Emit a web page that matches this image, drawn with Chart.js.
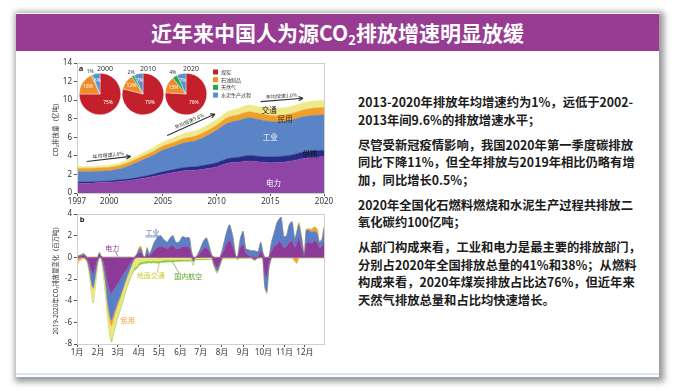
<!DOCTYPE html>
<html>
<head>
<meta charset="utf-8">
<script src="https://cdn.jsdelivr.net/npm/chart.js@4.4.1/dist/chart.umd.min.js"></script>
<style>
  html, body { margin: 0; padding: 0; width: 676px; height: 391px; background: #fff; overflow: hidden; }
  body { position: relative; font-family: "Noto Sans CJK SC", sans-serif; }
  #slide { position: absolute; left: 16px; top: 13px; width: 643px; height: 364px; background: #fff; box-shadow: 2px 2px 6px 3px rgba(0,0,0,0.4); }
  #title { position: absolute; left: 0; top: 1px; width: 643px; height: 37px; background: #973b93; color: #fff; font-weight: bold; font-size: 21px; line-height: 37px; text-align: center; }
  #title sub { font-size: 13px; vertical-align: -4px; line-height: 0; }
  #baseline { position: absolute; left: 0; bottom: 2px; width: 643px; height: 2px; background: #d6e7f7; }
  #notes { position: absolute; left: 358px; top: 94px; width: 300px; font-weight: bold; font-size: 12.3px; line-height: 17.5px; color: #1c1c1c; }
  #notes p { margin: 0 0 7.5px 0; white-space: nowrap; }
  canvas { position: absolute; }
</style>
</head>
<body>
<div id="slide">
  <div id="title">近年来中国人为源CO<sub>2</sub>排放增速明显放缓</div>
  <div id="baseline"></div>
</div>
<canvas id="chartA" width="300" height="160" style="left:40px;top:55px"></canvas>
<canvas id="chartB" width="300" height="160" style="left:40px;top:207px"></canvas>
<canvas id="pie1" width="60" height="60" style="left:70px;top:64px"></canvas>
<canvas id="pie2" width="60" height="60" style="left:113px;top:64px"></canvas>
<canvas id="pie3" width="60" height="60" style="left:156px;top:64px"></canvas>
<div id="notes">
  <p>2013-2020年排放年均增速约为1%，远低于2002-<br>2013年间9.6%的排放增速水平；</p>
  <p>尽管受新冠疫情影响，我国2020年第一季度碳排放<br>同比下降11%，但全年排放与2019年相比仍略有增<br>加，同比增长0.5%；</p>
  <p>2020年全国化石燃料燃烧和水泥生产过程共排放二<br>氧化碳约100亿吨；</p>
  <p>从部门构成来看，工业和电力是最主要的排放部门，<br>分别占2020年全国排放总量的41%和38%；从燃料<br>构成来看，2020年煤炭排放占比达76%，但近年来<br>天然气排放总量和占比均快速增长。</p>
</div>
<script>
// ---------- 图a：1997-2020 分部门排放（亿吨） ----------
const years = [1997, 1998, 1999, 2000, 2001, 2002, 2003, 2004, 2005, 2006, 2007, 2008,
               2009, 2010, 2011, 2012, 2013, 2014, 2015, 2016, 2017, 2018, 2019, 2020];
const yearTicks = [1997, 2000, 2005, 2010, 2015, 2020];
const power       = [1.0, 1.05, 1.1, 1.15, 1.25, 1.35, 1.55, 1.75, 2.0, 2.2, 2.4, 2.45, 2.6, 2.8, 3.2, 3.3, 3.45, 3.35, 3.25, 3.3, 3.45, 3.7, 3.85, 3.9];
const heat        = [0.15, 0.15, 0.15, 0.15, 0.17, 0.18, 0.2, 0.25, 0.28, 0.32, 0.35, 0.38, 0.42, 0.45, 0.5, 0.55, 0.6, 0.6, 0.62, 0.65, 0.65, 0.7, 0.7, 0.7];
const industry    = [1.15, 1.1, 1.1, 1.1, 1.18, 1.47, 1.75, 2.0, 2.32, 2.48, 2.65, 2.77, 3.08, 3.5, 3.8, 3.95, 4.05, 3.95, 3.83, 3.75, 3.75, 3.8, 3.8, 3.8];
const residential = [0.35, 0.35, 0.35, 0.35, 0.35, 0.38, 0.4, 0.42, 0.45, 0.45, 0.48, 0.5, 0.52, 0.55, 0.6, 0.62, 0.65, 0.65, 0.65, 0.65, 0.7, 0.72, 0.78, 0.8];
const transport   = [0.2, 0.2, 0.22, 0.25, 0.28, 0.3, 0.35, 0.4, 0.45, 0.5, 0.55, 0.58, 0.6, 0.62, 0.65, 0.68, 0.72, 0.75, 0.78, 0.8, 0.8, 0.78, 0.78, 0.78];

// ---------- 饼图：燃料构成（%） ----------
const fuels = ['煤炭', '石油制品', '天然气', '水泥生产过程'];
const fuelColors = ['#c3202b', '#f08c28', '#22a84a', '#5a90d0'];
const pie2000 = [75, 18, 1, 6];
const pie2010 = [79, 12, 2, 7];
const pie2020 = [76, 13, 4, 7];

// ---------- 图b：2019-2020 逐日排放变化（百万吨） ----------
const monthStarts = [0, 31, 60, 91, 121, 152, 182, 213, 244, 274, 305, 335];
const monthLabels = ['1月', '2月', '3月', '4月', '5月', '6月', '7月', '8月', '9月', '10月', '11月', '12月'];
const days = [0, 5, 10, 15, 19, 22, 24, 27, 30, 33, 35, 38, 42, 45, 49, 51, 54, 59, 64, 69, 74, 79, 84, 88,
              91, 94, 97, 100, 103, 106, 109, 113, 118, 123, 128, 133, 137, 141, 145, 150, 155, 160, 165, 168,
              171, 174, 177, 182, 186, 190, 194, 198, 202, 206, 210, 214, 219, 224, 229, 233, 236, 240, 244, 248,
              252, 256, 261, 266, 270, 273, 276, 279, 282, 286, 290, 294, 298, 300, 304, 308, 312, 316, 320, 323,
              326, 330, 334, 337, 341, 345, 349, 353, 356, 360, 363];
const bPower = [-0.1, 0.1, 0.2, -0.2, -0.8, -1.4, -1.5, -0.9, -0.2, 0.25, 0.1, -0.3, -1.3, -2.4, -3.2, -3.3, -3.0, -2.5, -2.0, -1.5, -1.0, -0.5, -0.1, 0.2,
                0.4, 0.5, 0.1, 0, 0.3, 0.1, 0.3, 0.6, 0.9, 1.0, 0.9, 0.8, 1.0, 1.1, 0.8, 0.8, 1.0, 1.0, 0.9, 0.3,
                -0.2, 0, 0.1, 0.5, 0.8, 0.9, 0.6, 0.1, -0.6, -1.0, -0.5, 0.4, 1.1, 1.6, 1.0, 0.1, 0, 0.9, 1.2, 0.4,
                0.2, 0.1, -0.2, 0.1, 0.6, 0.2, -1.5, -1.8, -0.6, 0.6, 1.0, 1.2, 1.5, 1.3, 0.9, 1.0, 1.4, 1.5, 0.9, 1.3,
                1.8, 1.0, 0.1, 1.3, 1.4, 1.3, 1.5, 1.4, 0.9, 1.0, 1.5];
const bIndustry = [0.1, 0.1, 0.1, -0.1, -0.6, -1.2, -1.3, -0.8, -0.3, 0.15, 0.05, -0.3, -1.0, -1.8, -2.4, -2.5, -2.2, -1.8, -1.5, -1.1, -0.7, -0.4, -0.1, 0.1,
                   0.3, 0.3, 0.1, 0, 0.5, 0.2, 0.3, 0.7, 0.9, 1.0, 0.7, 0.6, 0.8, 0.9, 0.6, 0.6, 0.9, 0.8, 0.9, 0.3,
                   -0.2, 0, 0.1, 0.4, 0.7, 0.9, 0.5, 0.1, -0.2, -0.3, -0.2, 0.4, 1.0, 1.4, 0.9, 0.1, -0.1, 0.8, 1.2, 0.4,
                   0.5, 0.5, 0.6, 0.4, 0.8, 0.3, -1.2, -1.4, -0.4, 0.8, 1.3, 2.0, 2.1, 2.4, 1.0, 1.0, 1.6, 1.8, 0.8, 1.0,
                   1.2, 0.8, 0.1, 1.2, 1.1, 1.0, 0.9, 0.8, 0.5, 0.6, 1.2];
const bResidential = [-0.3, -0.2, 0.05, -0.1, -0.1, -0.1, -0.1, -0.1, 0, 0.05, 0, -0.1, -0.2, -0.3, -0.5, -0.5, -0.4, -0.3, -0.2, -0.15, -0.1, -0.05, 0, 0,
                      0.2, 0.2, 0, 0, 0.1, 0.05, 0, 0, -0.05, -0.05, 0, 0, 0, 0, 0, 0, 0, 0, 0, 0,
                      0, 0, 0, 0, 0, 0, 0, 0, 0, 0, 0, 0, 0, 0, 0, 0, 0, 0, 0, 0,
                      0, 0, 0, 0, 0, 0, 0, 0, 0, 0, 0, 0, 0, 0, 0, 0, 0, 0, -0.3, -0.5,
                      0.2, 0.1, 0, 0.1, 0.1, 0.3, 0.4, 0.4, 0.1, 0.1, 0.1];
const bGround = [-0.3, -0.1, -0.1, -0.1, -0.5, -1.0, -1.2, -0.8, -0.4, 0.05, -0.1, -0.5, -1.0, -1.0, -1.2, -1.3, -1.2, -1.0, -0.9, -0.8, -0.7, -0.7, -0.8, -0.8,
                 -0.5, -0.4, -0.4, -0.35, -0.35, -0.3, -0.35, -0.3, -0.3, -0.25, -0.25, -0.25, -0.25, -0.25, -0.2, -0.2, -0.2, -0.2, -0.2, -0.2,
                 -0.25, -0.15, -0.15, -0.15, -0.12, -0.12, -0.12, -0.1, -0.1, -0.1, -0.1, -0.08, -0.08, -0.08, -0.08, -0.08, -0.06, -0.06, -0.06, -0.06,
                 -0.05, -0.05, -0.05, -0.05, -0.05, -0.05, -0.1, -0.1, -0.05, -0.04, -0.04, -0.04, -0.04, -0.04, -0.04, -0.04, -0.04, -0.04, -0.04, -0.04,
                 -0.04, -0.04, -0.04, -0.04, -0.04, -0.04, -0.04, -0.04, -0.04, -0.04, -0.04];
const bAviation = [0, 0, 0, 0, -0.05, -0.1, -0.1, -0.1, -0.05, 0, 0, -0.05, -0.1, -0.15, -0.2, -0.2, -0.2, -0.2, -0.2, -0.2, -0.2, -0.2, -0.2, -0.25,
                   -0.25, -0.25, -0.2, -0.2, -0.2, -0.2, -0.2, -0.2, -0.2, -0.2, -0.2, -0.2, -0.18, -0.18, -0.18, -0.18, -0.15, -0.15, -0.15, -0.15,
                   -0.1, -0.1, -0.1, -0.1, -0.1, -0.1, -0.1, -0.1, -0.08, -0.08, -0.08, -0.06, -0.06, -0.06, -0.06, -0.05, -0.05, -0.05, -0.05, -0.05,
                   -0.04, -0.04, -0.04, -0.04, -0.04, -0.04, -0.05, -0.05, -0.04, -0.03, -0.03, -0.03, -0.03, -0.03, -0.03, -0.03, -0.03, -0.03, -0.03, -0.03,
                   -0.03, -0.03, -0.03, -0.03, -0.03, -0.03, -0.03, -0.03, -0.03, -0.03, -0.03];

Chart.defaults.font.family = "'Noto Sans', 'Noto Sans CJK SC', sans-serif";
Chart.defaults.color = '#333';

const sectorsA = [
  { label: '电力', data: power, color: '#8f45a6' },
  { label: '供热', data: heat, color: '#262d87' },
  { label: '工业', data: industry, color: '#5b84c6' },
  { label: '民用', data: residential, color: '#f0a02a' },
  { label: '交通', data: transport, color: '#eeea8c' }
];
const sectorsB = [
  { label: '电力', data: bPower, color: '#8e3a98' },
  { label: '工业', data: bIndustry, color: '#5b7fc6' },
  { label: '民用', data: bResidential, color: '#f2a233' },
  { label: '地面交通', data: bGround, color: '#e9e77a' },
  { label: '国内航空', data: bAviation, color: '#93c94e' }
];

function drawArrow(ctx, x1, y1, x2, y2) {
  const a = Math.atan2(y2 - y1, x2 - x1);
  ctx.beginPath();
  ctx.moveTo(x1, y1); ctx.lineTo(x2, y2);
  ctx.moveTo(x2, y2); ctx.lineTo(x2 - 5 * Math.cos(a - 0.45), y2 - 5 * Math.sin(a - 0.45));
  ctx.moveTo(x2, y2); ctx.lineTo(x2 - 5 * Math.cos(a + 0.45), y2 - 5 * Math.sin(a + 0.45));
  ctx.stroke();
}

function frame(chart) {
  const { ctx, chartArea: ca } = chart;
  ctx.save();
  ctx.strokeStyle = '#cfcfcf';
  ctx.lineWidth = 1;
  ctx.strokeRect(ca.left + 0.5, ca.top + 0.5, ca.right - ca.left, ca.bottom - ca.top);
  ctx.restore();
}

// 图a 的注释：箭头、部门名称、图例
const annotA = {
  id: 'annotA',
  afterDatasetsDraw(chart) {
    const { ctx, scales: { x, y } } = chart;
    const px = v => x.getPixelForValue(v), py = v => y.getPixelForValue(v);
    frame(chart);
    ctx.save();
    ctx.textAlign = 'center';
    ctx.textBaseline = 'middle';

    const names = [
      { t: '交通', x: 2014.9, y: 8.95, c: '#222' },
      { t: '民用', x: 2016.4, y: 8.0, c: '#3a2a10' },
      { t: '工业', x: 2015.0, y: 6.0, c: '#fff' },
      { t: '供热', x: 2018.7, y: 4.15, c: '#111' },
      { t: '电力', x: 2015.3, y: 1.1, c: '#fff' }
    ];
    ctx.font = "7.5px 'Noto Sans CJK SC'";
    names.forEach(n => { ctx.fillStyle = n.c; ctx.fillText(n.t, px(n.x), py(n.y)); });

    const arrows = [
      { x1: 1997.9, y1: 3.4, x2: 2002.0, y2: 3.94, t: '年均增速2.8%' },
      { x1: 2005.4, y1: 6.2, x2: 2009.85, y2: 8.5, t: '年均增速9.6%' },
      { x1: 2014.1, y1: 9.84, x2: 2018.05, y2: 10.2, t: '年均增速1.0%' }
    ];
    ctx.strokeStyle = '#333';
    ctx.fillStyle = '#333';
    ctx.lineWidth = 1.1;
    ctx.font = "5px 'Noto Sans CJK SC'";
    arrows.forEach(a => {
      const X1 = px(a.x1), Y1 = py(a.y1), X2 = px(a.x2), Y2 = py(a.y2);
      drawArrow(ctx, X1, Y1, X2, Y2);
      const ang = Math.atan2(Y2 - Y1, X2 - X1);
      ctx.save();
      ctx.translate((X1 + X2) / 2 + 4 * Math.sin(ang), (Y1 + Y2) / 2 - 4 * Math.cos(ang));
      ctx.rotate(ang);
      ctx.fillText(a.t, 0, 0);
      ctx.restore();
    });

    ctx.fillStyle = '#222';
    ctx.font = "bold 7.5px 'Noto Sans'";
    ctx.fillText('a', 41, 14);

    // 饼图图例
    ctx.textAlign = 'left';
    ctx.font = "5px 'Noto Sans CJK SC'";
    fuels.forEach((f, i) => {
      const yy = 17 + i * 7.7;
      ctx.fillStyle = fuelColors[i];
      ctx.fillRect(173, yy - 2.5, 5, 5);
      ctx.fillStyle = '#333';
      ctx.fillText(f, 181, yy);
    });
    ctx.restore();
  }
};

// 图b 的注释
const annotB = {
  id: 'annotB',
  afterDatasetsDraw(chart) {
    const { ctx, scales: { x, y } } = chart;
    const px = v => x.getPixelForValue(v), py = v => y.getPixelForValue(v);
    frame(chart);
    ctx.save();
    ctx.lineWidth = 0.7;
    const leaders = [
      { x1: 116, y1: 2.05, x2: 121, y2: 1.7, c: '#5b7fc6' },
      { x1: 118, y1: -1.4, x2: 121, y2: -0.5, c: '#b8b040' },
      { x1: 150, y1: -1.45, x2: 140, y2: -0.4, c: '#5aa02c' },
      { x1: 67, y1: -5.8, x2: 63, y2: -5.6, c: '#f0a030' },
      { x1: 56, y1: 0.6, x2: 60, y2: 0.1, c: '#8e3a98' }
    ];
    leaders.forEach(l => {
      ctx.strokeStyle = l.c;
      ctx.beginPath(); ctx.moveTo(px(l.x1), py(l.y1)); ctx.lineTo(px(l.x2), py(l.y2)); ctx.stroke();
    });
    ctx.textAlign = 'center';
    ctx.textBaseline = 'middle';
    ctx.font = "7px 'Noto Sans CJK SC'";
    const names = [
      { t: '电力', x: 51.7, y: 0.85, c: '#8e3a98' },
      { t: '工业', x: 110.8, y: 2.3, c: '#4a6fb8', u: true },
      { t: '地面交通', x: 108.4, y: -1.7, c: '#d2ca38' },
      { t: '国内航空', x: 163.5, y: -1.77, c: '#5aa02c' },
      { t: '民用', x: 74.9, y: -5.8, c: '#f0a030' }
    ];
    names.forEach(n => {
      ctx.fillStyle = n.c;
      ctx.fillText(n.t, px(n.x), py(n.y));
      if (n.u) {
        ctx.strokeStyle = n.c;
        ctx.beginPath(); ctx.moveTo(px(n.x) - 7, py(n.y) + 4.5); ctx.lineTo(px(n.x) + 7, py(n.y) + 4.5); ctx.stroke();
      }
    });
    ctx.fillStyle = '#222';
    ctx.font = "bold 7.5px 'Noto Sans'";
    ctx.fillText('b', 42, 13);
    ctx.restore();
  }
};

new Chart(document.getElementById('chartA'), {
  type: 'line',
  data: {
    datasets: sectorsA.map((s, i) => ({
      label: s.label,
      data: years.map((yr, k) => ({ x: yr, y: s.data[k] })),
      fill: i === 0 ? 'origin' : '-1',
      backgroundColor: s.color,
      borderColor: s.color,
      borderWidth: 0.5,
      pointRadius: 0,
      tension: 0.3
    }))
  },
  options: {
    responsive: false,
    animation: false,
    layout: { padding: { left: 10, right: 16, top: 8, bottom: 0 } },
    plugins: { legend: { display: false }, tooltip: { enabled: false } },
    scales: {
      x: {
        type: 'linear', min: 1997, max: 2020,
        afterBuildTicks: s => { s.ticks = yearTicks.map(v => ({ value: v })); },
        afterFit: s => { s.height = 22; },
        ticks: { callback: v => String(v), font: { size: 8 }, color: '#333', padding: 1, maxRotation: 0, autoSkip: false },
        grid: { drawOnChartArea: false, tickLength: 3, color: '#555' },
        border: { color: '#555' }
      },
      y: {
        stacked: true, min: 0, max: 14,
        afterFit: s => { s.width = 27; },
        ticks: { stepSize: 2, font: { size: 8 }, color: '#333', padding: 2 },
        grid: { drawOnChartArea: false, tickLength: 3, color: '#555' },
        border: { color: '#555' },
        title: { display: true, text: 'CO₂排放量（亿吨）', font: { size: 6.5 }, color: '#333', padding: { top: 2, bottom: 0 } }
      }
    }
  },
  plugins: [annotA]
});

const dsB = [];
['pos', 'neg'].forEach(sign => {
  sectorsB.forEach((s, i) => {
    dsB.push({
      label: s.label,
      data: days.map((d, k) => ({ x: d, y: sign === 'pos' ? Math.max(s.data[k], 0) : Math.min(s.data[k], 0) })),
      stack: sign,
      fill: i === 0 ? 'origin' : '-1',
      backgroundColor: s.color,
      borderColor: s.color,
      borderWidth: 0.5,
      pointRadius: 0,
      tension: 0.2
    });
  });
});

new Chart(document.getElementById('chartB'), {
  type: 'line',
  data: { datasets: dsB },
  options: {
    responsive: false,
    animation: false,
    layout: { padding: { left: 10, right: 16, top: 7, bottom: 0 } },
    plugins: { legend: { display: false }, tooltip: { enabled: false } },
    scales: {
      x: {
        type: 'linear', min: 0, max: 363,
        afterBuildTicks: s => { s.ticks = monthStarts.map(v => ({ value: v })); },
        afterFit: s => { s.height = 23; },
        ticks: { callback: v => monthLabels[monthStarts.indexOf(v)], font: { size: 8 }, color: '#333', padding: 1, maxRotation: 0, autoSkip: false },
        grid: { drawOnChartArea: false, tickLength: 3, color: '#555' },
        border: { color: '#555' }
      },
      y: {
        stacked: true, min: -8, max: 4,
        afterFit: s => { s.width = 27; },
        ticks: { stepSize: 2, font: { size: 8 }, color: '#333', padding: 2 },
        grid: { drawOnChartArea: false, tickLength: 3, color: '#555' },
        border: { color: '#555' },
        title: { display: true, text: '2019-2020年CO₂排放量变化（百万吨）', font: { size: 6.3 }, color: '#333', padding: { top: 2, bottom: 0 } }
      }
    }
  },
  plugins: [annotB]
});

// 饼图百分比标签与年份
const pieLabels = {
  id: 'pieLabels',
  afterDatasetsDraw(chart, args, opts) {
    const { ctx } = chart;
    const meta = chart.getDatasetMeta(0);
    const vals = chart.data.datasets[0].data;
    ctx.save();
    ctx.textAlign = 'center';
    ctx.textBaseline = 'middle';
    ctx.font = "5px 'Noto Sans'";
    meta.data.forEach((arc, i) => {
      const p = arc.getProps(['x', 'y', 'startAngle', 'endAngle', 'outerRadius'], true);
      const mid = (p.startAngle + p.endAngle) / 2;
      const small = vals[i] < 5;
      const r = small ? p.outerRadius + 4 : (vals[i] > 50 ? p.outerRadius * 0.55 : p.outerRadius * 0.68);
      ctx.fillStyle = small ? '#333' : '#fff';
      ctx.fillText(vals[i] + '%', p.x + Math.cos(mid) * r, p.y + Math.sin(mid) * r);
    });
    const c = meta.data[0];
    ctx.fillStyle = '#333';
    ctx.font = "7px 'Noto Sans'";
    ctx.fillText(opts.title, c.x + 5, c.y - 25);
    ctx.restore();
  }
};

[['pie1', pie2000, '2000'], ['pie2', pie2010, '2010'], ['pie3', pie2020, '2020']].forEach(([id, vals, title]) => {
  new Chart(document.getElementById(id), {
    type: 'pie',
    data: {
      labels: fuels,
      datasets: [{ data: vals, backgroundColor: fuelColors, borderColor: '#fff', borderWidth: 0.4 }]
    },
    options: {
      responsive: false,
      animation: false,
      layout: { padding: 9 },
      plugins: { legend: { display: false }, tooltip: { enabled: false }, pieLabels: { title: title } }
    },
    plugins: [pieLabels]
  });
});
</script>
</body>
</html>
